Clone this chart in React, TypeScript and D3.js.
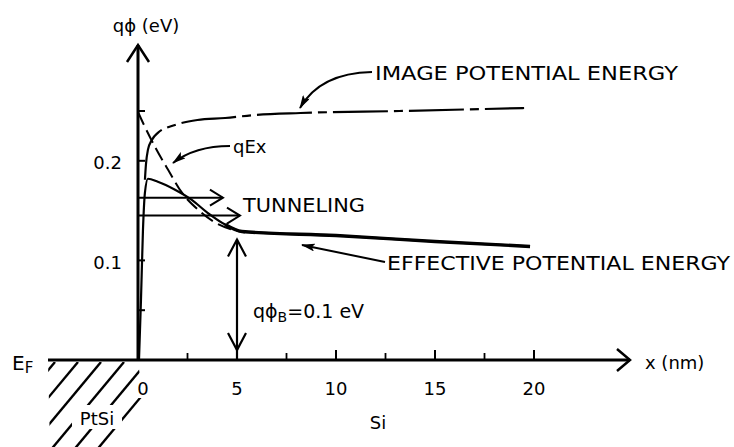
import React from "react";
import * as d3 from "d3";

// ---- data (x in nm, energy in eV) ----
const xMajorTicks = [5, 10, 15, 20];
const xMinorTicks = [2.5, 7.5, 12.5, 17.5];
const xTickLabels = ["0", "5", "10", "15", "20"];
const xTickLabelValues = [0, 5, 10, 15, 20];
const yTicks = [0.05, 0.1, 0.2, 0.25];
const yTickLabels = ["0.1", "0.2"];
const yTickLabelValues = [0.1, 0.2];

const imageX = [0.35, 0.4, 0.5, 0.7, 1.0, 1.87, 3.0, 4.4, 5.9, 8.2, 13.2, 19.5];
const imageV = [0.181, 0.196, 0.211, 0.221, 0.228, 0.236, 0.241, 0.243, 0.246, 0.248, 0.25, 0.253];

const fieldX = [0, 0.35, 0.86, 1.52, 2.22, 3.03, 3.9, 4.75, 5.4];
const fieldV = [0.249, 0.234, 0.214, 0.191, 0.168, 0.151, 0.138, 0.131, 0.128];

const effX = [0.05, 0.15, 0.25, 0.35, 0.5, 1.0, 1.87, 2.7, 3.5, 4.4, 5.25, 10, 15, 19.8];
const effV = [0.0, 0.06, 0.13, 0.168, 0.182, 0.179, 0.171, 0.161, 0.148, 0.136, 0.129, 0.125, 0.119, 0.114];

const tunnelV = [0.163, 0.145];
const tunnelEndX = [4.29, 5.15];

const barrierX = 5;
const barrierTopV = 0.121;
const barrierBottomV = 0.01;

const FONT = "DejaVu Sans, sans-serif";

export default function App() {
  const x = d3.scaleLinear().domain([0, 20]).range([138, 534]);
  const y = d3.scaleLinear().domain([0, 0.25]).range([360, 111]);

  const line = d3
    .line<[number, number]>()
    .x((d) => x(d[0]))
    .y((d) => y(d[1]))
    .curve(d3.curveMonotoneX);

  const imagePts = imageX.map((v, i) => [v, imageV[i]] as [number, number]);
  const fieldPts = fieldX.map((v, i) => [v, fieldV[i]] as [number, number]);
  const effPts = effX.map((v, i) => [v, effV[i]] as [number, number]);
  const effTail = effPts.filter((p) => p[0] >= 4.4);

  const x0 = x(0);
  const yAxisTop = 45;
  const xAxisLeft = 48;
  const xAxisRight = 630;
  const yE = y(0);

  // hatch lines under E_F (PtSi)
  const hatchTops = d3.range(55, 175, 23);
  const hatchSlope = 1.2;

  const openHead = (tx: number, ty: number, dir: "up" | "down" | "right", len: number, half: number) => {
    if (dir === "up") return `M${tx - half},${ty + len}L${tx},${ty}L${tx + half},${ty + len}`;
    if (dir === "down") return `M${tx - half},${ty - len}L${tx},${ty}L${tx + half},${ty - len}`;
    return `M${tx - len},${ty - half}L${tx},${ty}L${tx - len},${ty + half}`;
  };

  return (
    <svg
      width={734}
      height={447}
      viewBox="0 0 734 447"
      style={{ position: "absolute", left: 0, top: 0, background: "#fff" }}
    >
      <defs>
        <marker id="fh" viewBox="0 0 14 8" refX="13" refY="4" markerWidth="14" markerHeight="8" markerUnits="userSpaceOnUse" orient="auto">
          <path d="M0,0L14,4L0,8L3,4Z" fill="#000" />
        </marker>
        <clipPath id="hatchClip">
          <path d={`M${xAxisLeft},${yE + 2}L${x0},${yE + 2}L150,447L50,447Z`} />
        </clipPath>
      </defs>
      <rect x={0} y={0} width={734} height={447} fill="#fff" />

      {/* hatch */}
      <g clipPath="url(#hatchClip)" stroke="#000" strokeWidth={2.4}>
        {hatchTops.map((t, i) => (
          <line key={i} x1={t} y1={yE + 2} x2={t - 100} y2={yE + 2 + 100 * hatchSlope} />
        ))}
      </g>
      <rect x={72} y={405} width={50} height={24} fill="#fff" />
      <text x={97} y={418} fontFamily={FONT} fontSize={18} textAnchor="middle" dominantBaseline="central">PtSi</text>

      {/* axes */}
      <line x1={xAxisLeft} y1={yE} x2={xAxisRight} y2={yE} stroke="#000" strokeWidth={3} />
      <path d={openHead(xAxisRight, yE, "right", 13, 11)} fill="none" stroke="#000" strokeWidth={2.5} />
      <line x1={x0} y1={yE + 1} x2={x0} y2={yAxisTop} stroke="#000" strokeWidth={3} />
      <path d={openHead(x0, yAxisTop, "up", 17, 11)} fill="none" stroke="#000" strokeWidth={2.5} />

      {xMajorTicks.map((t) => (
        <line key={"M" + t} x1={x(t)} y1={yE} x2={x(t)} y2={yE - 10} stroke="#000" strokeWidth={2} />
      ))}
      {xMinorTicks.map((t) => (
        <line key={"m" + t} x1={x(t)} y1={yE} x2={x(t)} y2={yE - 7} stroke="#000" strokeWidth={1.8} />
      ))}
      {yTicks.map((t) => (
        <line key={"y" + t} x1={x0} y1={y(t)} x2={x0 + 7} y2={y(t)} stroke="#000" strokeWidth={2} />
      ))}

      {xTickLabelValues.map((v, i) => (
        <g key={"xl" + v}>
          {v === 0 && <rect x={x(v) - 3} y={378} width={16} height={20} fill="#fff" />}
          <text x={x(v) + (v === 0 ? 5 : 0)} y={388} fontFamily={FONT} fontSize={18} textAnchor="middle" dominantBaseline="central">
            {xTickLabels[i]}
          </text>
        </g>
      ))}
      {yTickLabelValues.map((v, i) => (
        <text key={"yl" + v} x={122} y={y(v) + 2} fontFamily={FONT} fontSize={18} textAnchor="end" dominantBaseline="central">
          {yTickLabels[i]}
        </text>
      ))}

      <text x={146} y={25} fontFamily={FONT} fontSize={18} textAnchor="middle" dominantBaseline="central">qϕ (eV)</text>
      <text x={645} y={362} fontFamily={FONT} fontSize={18} dominantBaseline="central">x (nm)</text>
      <text x={12} y={363} fontFamily={FONT} fontSize={20} dominantBaseline="central">
        E<tspan fontSize={15} dy={5}>F</tspan>
      </text>
      <text x={378} y={422} fontFamily={FONT} fontSize={18} textAnchor="middle" dominantBaseline="central">Si</text>

      {/* curves */}
      <path d={line(imagePts) || ""} fill="none" stroke="#000" strokeWidth={2.2} strokeDasharray="55 6 9 6" />
      <path d={line(fieldPts) || ""} fill="none" stroke="#000" strokeWidth={2} strokeDasharray="14 6" />
      <path d={line(effPts) || ""} fill="none" stroke="#000" strokeWidth={2.2} />
      <path d={line(effTail) || ""} fill="none" stroke="#000" strokeWidth={3.4} />

      {/* tunneling arrows */}
      {tunnelV.map((v, i) => (
        <g key={"t" + i}>
          <line x1={x0} y1={y(v)} x2={x(tunnelEndX[i])} y2={y(v)} stroke="#000" strokeWidth={2} />
          <path d={openHead(x(tunnelEndX[i]), y(v), "right", 13, 8)} fill="none" stroke="#000" strokeWidth={2} />
        </g>
      ))}
      <text x={243} y={205} fontFamily={FONT} fontSize={20} dominantBaseline="central" textLength={122} lengthAdjust="spacingAndGlyphs">TUNNELING</text>

      {/* barrier height arrow */}
      <line x1={x(barrierX)} y1={y(barrierTopV)} x2={x(barrierX)} y2={yE} stroke="#000" strokeWidth={2.2} />
      <path d={openHead(x(barrierX), y(barrierTopV), "up", 17, 9)} fill="none" stroke="#000" strokeWidth={2.2} />
      <path d={openHead(x(barrierX), y(barrierBottomV), "down", 17, 9)} fill="none" stroke="#000" strokeWidth={2.2} />
      <text x={253} y={311} fontFamily={FONT} fontSize={19} dominantBaseline="central">
        qϕ<tspan fontSize={14} dy={6}>B</tspan><tspan dy={-6}>=0.1 eV</tspan>
      </text>

      {/* annotations */}
      <path d="M372,72 Q320,73 300,108" fill="none" stroke="#000" strokeWidth={2} markerEnd="url(#fh)" />
      <text x={375} y={73} fontFamily={FONT} fontSize={20} dominantBaseline="central" textLength={303} lengthAdjust="spacingAndGlyphs">IMAGE POTENTIAL ENERGY</text>

      <path d="M230,146 Q195,146 173,163" fill="none" stroke="#000" strokeWidth={2} markerEnd="url(#fh)" />
      <text x={233} y={146} fontFamily={FONT} fontSize={18} dominantBaseline="central">qEx</text>

      <path d="M385,262 L302,245" fill="none" stroke="#000" strokeWidth={2} markerEnd="url(#fh)" />
      <text x={387} y={263} fontFamily={FONT} fontSize={20} dominantBaseline="central" textLength={343} lengthAdjust="spacingAndGlyphs">EFFECTIVE POTENTIAL ENERGY</text>
    </svg>
  );
}
